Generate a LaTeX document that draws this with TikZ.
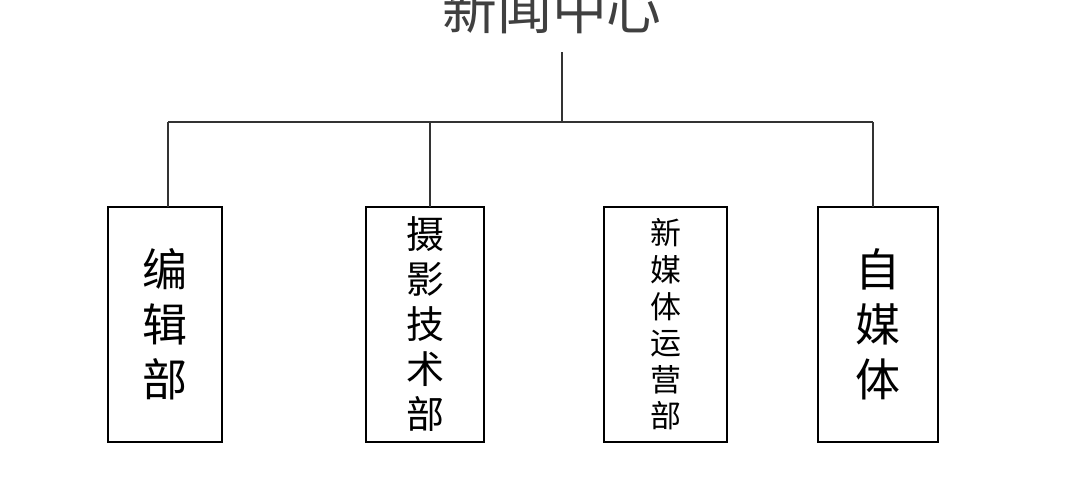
\documentclass[tikz,border=0pt]{standalone}
\usepackage{fontspec}
\newfontfamily\cjk{Noto Sans CJK SC}
\begin{document}
\begin{tikzpicture}[x=0.025cm,y=-0.025cm,
  dept/.style={draw,thick,minimum width=#1,minimum height=5.875cm},
  line/.style={thick,draw=black!80}]
\clip (0,0) rectangle (1072,487);
\fill[white] (0,0) rectangle (1072,487);
\node[font=\cjk\fontsize{39}{40}\selectfont,text=black!75] (top) at (552,9) {新闻中心};
\coordinate (c) at (562,52);
\coordinate (h) at (562,122);
\node[dept=2.85cm] (b1) at (165,324.5) {};
\node[dept=2.95cm] (b2) at (425,324.5) {};
\node[dept=3.075cm] (b3) at (665.5,324.5) {};
\node[dept=3cm] (b4) at (878,324.5) {};
\draw[line] (c) -- (h);
\draw[line] (168,122) -- (873,122);
\foreach \x in {168,430,873}
  \draw[line] (\x,122) -- (\x,207);
\node[align=center,font=\cjk\fontsize{32}{39}\selectfont] (t1) at (b1) {编\\辑\\部};
\node[align=center,font=\cjk\fontsize{27}{32}\selectfont] (t2) at (b2) {摄\\影\\技\\术\\部};
\node[align=center,font=\cjk\fontsize{22}{26}\selectfont] (t3) at (b3) {新\\媒\\体\\运\\营\\部};
\node[align=center,font=\cjk\fontsize{32}{39}\selectfont] (t4) at (b4) {自\\媒\\体};
\end{tikzpicture}
\end{document}
